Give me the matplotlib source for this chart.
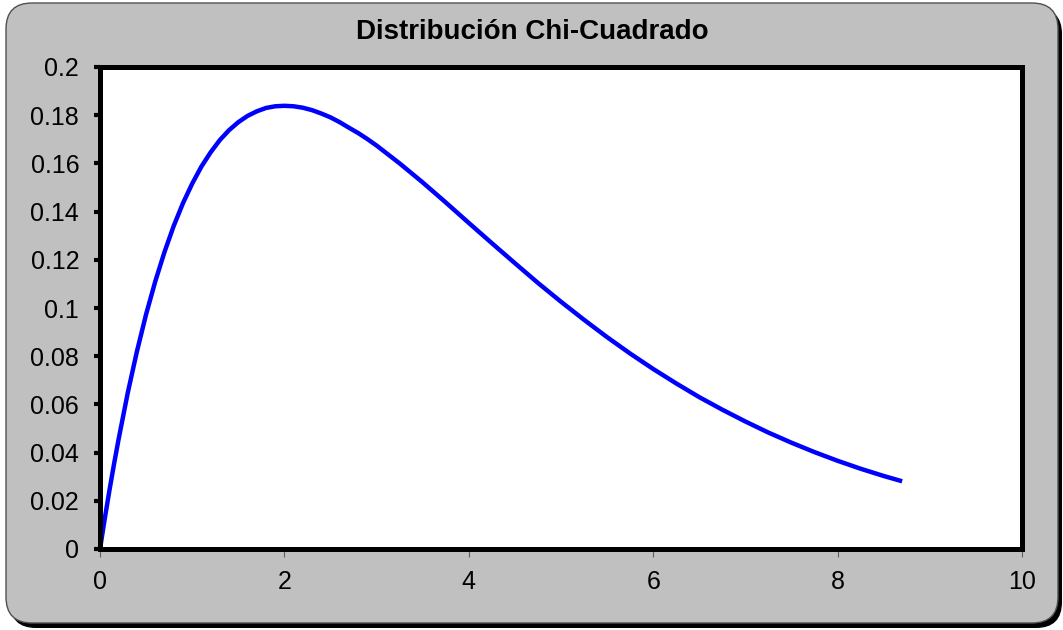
import numpy as np
import matplotlib
matplotlib.use("Agg")
import matplotlib.pyplot as plt
from matplotlib.patches import FancyBboxPatch

plt.rcParams['font.family'] = ['Liberation Sans', 'DejaVu Sans']

# values
x_vals = [0, 0.05, 0.1, 0.15, 0.2, 0.3, 0.4, 0.5, 0.6, 0.7, 0.8, 0.9, 1.0, 1.1, 1.2,
          1.3, 1.4, 1.5, 1.6, 1.7, 1.8, 1.9, 2.0, 2.1, 2.2, 2.3, 2.4, 2.5, 2.6,
          2.7, 2.8, 2.9, 3.0, 3.25, 3.5, 3.75, 4.0, 4.25, 4.5, 4.75,
          5.0, 5.25, 5.5, 5.75, 6.0, 6.25, 6.5, 6.75, 7.0, 7.25, 7.5, 7.75,
          8.0, 8.25, 8.5, 8.7]
y_vals = [0, 0.0122, 0.0238, 0.0348, 0.0452, 0.0646, 0.0819, 0.0974, 0.1111, 0.1233,
          0.1341, 0.1435, 0.1516, 0.1587, 0.1646, 0.1697, 0.1738, 0.1771, 0.1797,
          0.1816, 0.1830, 0.1837, 0.1839, 0.1837, 0.1831, 0.1821, 0.1807, 0.1791,
          0.1771, 0.1748, 0.1726, 0.1701, 0.1674, 0.1600, 0.1521, 0.1438, 0.1353,
          0.1269, 0.1186, 0.1104, 0.1026, 0.0951, 0.0879, 0.0811, 0.0747, 0.0687,
          0.0630, 0.0578, 0.0529, 0.0483, 0.0441, 0.0402, 0.0366, 0.0333, 0.0303,
          0.0281]
x_ticks = [0, 2, 4, 6, 8, 10]
y_ticks = [0, 0.02, 0.04, 0.06, 0.08, 0.1, 0.12, 0.14, 0.16, 0.18, 0.2]
y_labels = ['0', '0.02', '0.04', '0.06', '0.08', '0.1', '0.12', '0.14', '0.16', '0.18', '0.2']
title = "Distribución Chi-Cuadrado"

W, H = 1063, 630
fig = plt.figure(figsize=(W / 100, H / 100), dpi=100)
fig.patch.set_facecolor('white')

# background: rounded gray frame with a black shadow, drawn in pixel units
bg = fig.add_axes([0, 0, 1, 1])
bg.set_xlim(0, W)
bg.set_ylim(H, 0)
bg.axis('off')
bg.add_patch(FancyBboxPatch((10, 8), 1052, 620, boxstyle="round,pad=0,rounding_size=26",
                            facecolor='black', edgecolor='black', lw=0))
bg.add_patch(FancyBboxPatch((6, 3), 1052, 620, boxstyle="round,pad=0,rounding_size=26",
                            facecolor='#c0c0c0', edgecolor='#505050', lw=1))
bg.text(532, 32, title, ha='center', va='center', fontsize=20, fontweight='bold')

ax = fig.add_axes([100 / W, 1 - 549 / H, 922 / W, 482 / H])
ax.set_facecolor('white')
ax.plot(x_vals, y_vals, color='#0000ff', lw=3.2, solid_capstyle='butt',
        solid_joinstyle='round', clip_on=False)

ax.set_xlim(0, 10)
ax.set_ylim(0, 0.2)
ax.set_xticks(x_ticks)
ax.set_xticklabels([str(t) for t in x_ticks])
ax.set_yticks(y_ticks)
ax.set_yticklabels(y_labels)
for s in ax.spines.values():
    s.set_linewidth(3.6)
    s.set_color('black')
ax.tick_params(axis='y', direction='out', length=4, width=3, color='black',
               labelsize=18, pad=11)
ax.tick_params(axis='x', direction='out', length=6, width=0.8, color='#606060',
               labelsize=18, pad=9)

fig.savefig('out.png', dpi=100, facecolor=fig.get_facecolor())
